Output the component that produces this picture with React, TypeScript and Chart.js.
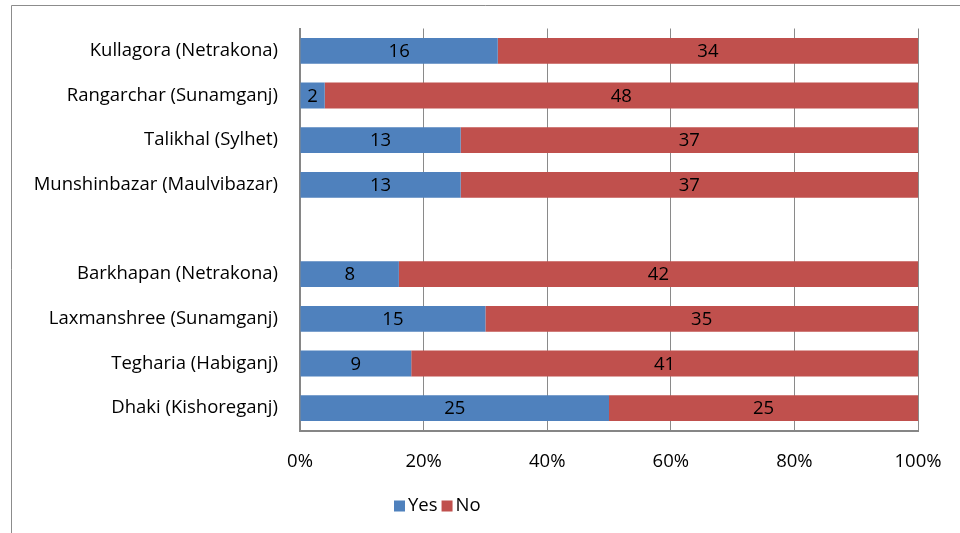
import React, { useEffect, useRef } from "react";
import { Chart, registerables } from "chart.js";

Chart.register(...registerables);

// Villages surveyed (blank row separates the two district groups)
const categories = [
  "Kullagora (Netrakona)",
  "Rangarchar (Sunamganj)",
  "Talikhal (Sylhet)",
  "Munshinbazar (Maulvibazar)",
  "",
  "Barkhapan (Netrakona)",
  "Laxmanshree (Sunamganj)",
  "Tegharia (Habiganj)",
  "Dhaki (Kishoreganj)",
];

// Respondent counts per village
const yesCounts: (number | null)[] = [16, 2, 13, 13, null, 8, 15, 9, 25];
const noCounts: (number | null)[] = [34, 48, 37, 37, null, 42, 35, 41, 25];

const seriesNames = ["Yes", "No"];
const seriesColors = ["#4F81BD", "#C0504D"];

const xTicks = [0, 20, 40, 60, 80, 100];

const FONT = "'Open Sans', Lato, sans-serif";
const FONT_SIZE = 18.5;

const toShare = (part: (number | null)[], other: (number | null)[]) =>
  part.map((v, i) => {
    const o = other[i];
    if (v == null || o == null) return null;
    return (v / (v + o)) * 100;
  });

export default function App() {
  const canvasRef = useRef<HTMLCanvasElement | null>(null);

  useEffect(() => {
    const canvas = canvasRef.current;
    if (!canvas) return;

    const counts = [yesCounts, noCounts];

    // Count labels centred in each bar segment
    const segmentLabels = {
      id: "segmentLabels",
      afterDatasetsDraw(chart: Chart) {
        const ctx = chart.ctx;
        ctx.save();
        ctx.fillStyle = "#000";
        ctx.font = `${FONT_SIZE}px ${FONT}`;
        ctx.textAlign = "center";
        ctx.textBaseline = "middle";
        chart.data.datasets.forEach((_ds, di) => {
          const meta = chart.getDatasetMeta(di);
          meta.data.forEach((el: any, i: number) => {
            const c = counts[di][i];
            if (c == null) return;
            const { x, base, y } = el.getProps(["x", "base", "y"], true);
            ctx.fillText(String(c), (x + base) / 2, y + 1);
          });
        });
        ctx.restore();
      },
    };

    // Outer frame and legend row beneath the axis
    const frameAndLegend = {
      id: "frameAndLegend",
      beforeDraw(chart: Chart) {
        const ctx = chart.ctx;
        ctx.save();
        ctx.fillStyle = "#fff";
        ctx.fillRect(0, 0, chart.width, chart.height);
        ctx.strokeStyle = "#8c8c8c";
        ctx.lineWidth = 1;
        ctx.beginPath();
        ctx.moveTo(11.5, chart.height);
        ctx.lineTo(11.5, 5.5);
        ctx.lineTo(chart.width, 5.5);
        ctx.stroke();
        ctx.restore();
      },
      afterDraw(chart: Chart) {
        const ctx = chart.ctx;
        ctx.save();
        ctx.font = `${FONT_SIZE}px ${FONT}`;
        ctx.textBaseline = "middle";
        ctx.textAlign = "left";
        const box = 11;
        const gap = 3;
        const itemGap = 4;
        let x = 394;
        const cy = 506;
        chart.data.datasets.forEach((ds) => {
          ctx.fillStyle = String(ds.backgroundColor);
          ctx.fillRect(x, cy - box / 2, box, box);
          ctx.fillStyle = "#000";
          const label = String(ds.label);
          ctx.fillText(label, x + box + gap, cy);
          x += box + gap + ctx.measureText(label).width + itemGap;
        });
        ctx.restore();
      },
    };

    const chart = new Chart(canvas, {
      type: "bar",
      data: {
        labels: categories,
        datasets: [
          {
            label: seriesNames[0],
            data: toShare(yesCounts, noCounts),
            backgroundColor: seriesColors[0],
            categoryPercentage: 0.58,
            barPercentage: 1,
          },
          {
            label: seriesNames[1],
            data: toShare(noCounts, yesCounts),
            backgroundColor: seriesColors[1],
            categoryPercentage: 0.58,
            barPercentage: 1,
          },
        ],
      },
      options: {
        indexAxis: "y",
        responsive: false,
        animation: false,
        layout: { padding: { top: 28.5, right: 42, left: 0, bottom: 0 } },
        plugins: {
          legend: { display: false },
          tooltip: { enabled: false },
        },
        scales: {
          x: {
            stacked: true,
            min: 0,
            max: 100,
            afterBuildTicks(axis: any) {
              axis.ticks = xTicks.map((v) => ({ value: v }));
            },
            afterFit(axis: any) {
              axis.height = 102.5;
              axis.paddingLeft = 0;
              axis.paddingRight = 0;
            },
            ticks: {
              color: "#000",
              font: { family: FONT, size: FONT_SIZE },
              padding: 20,
              maxRotation: 0,
              callback: (v: any) => `${v}%`,
            },
            grid: {
              color: "#8a8a8a",
              lineWidth: 1,
              drawTicks: false,
            },
            border: { color: "#868686", width: 2 },
          },
          y: {
            stacked: true,
            afterFit(axis: any) {
              axis.width = 300;
              axis.paddingTop = 0;
              axis.paddingBottom = 0;
            },
            ticks: {
              color: "#000",
              font: { family: FONT, size: FONT_SIZE },
              padding: 22,
            },
            grid: { display: false, drawTicks: false },
            border: { color: "#868686", width: 2 },
          },
        },
      },
      plugins: [frameAndLegend, segmentLabels],
    });

    return () => chart.destroy();
  }, []);

  return (
    <div style={{ position: "fixed", left: 0, top: 0, width: 960, height: 533, background: "#fff" }}>
      <canvas ref={canvasRef} width={960} height={533} style={{ display: "block" }} />
    </div>
  );
}
